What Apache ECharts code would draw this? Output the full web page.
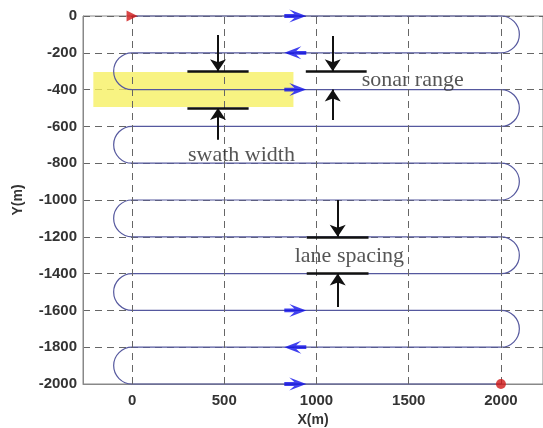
<!DOCTYPE html>
<html>
<head>
<meta charset="utf-8">
<script src="https://cdn.jsdelivr.net/npm/echarts@6/dist/echarts.min.js"></script>
<style>
  html, body { margin: 0; padding: 0; background: #fff; }
  #main { width: 543px; height: 428px; }
</style>
</head>
<body>
<div id="main"></div>
<script>
// survey lanes (lawnmower pattern)
var laneY = [0, -200, -400, -600, -800, -1000, -1200, -1400, -1600, -1800, -2000];
var laneStartX = 0;
var laneEndX = 2000;
var turnRadius = 100;

var xTicks = [0, 500, 1000, 1500, 2000];

// direction arrows on some lanes: [x, y, dir]
var arrowMarks = [
  [885, 0, 1], [885, -200, -1], [885, -400, 1],
  [885, -1600, 1], [885, -1800, -1], [885, -2000, 1]
];
var startPoint = [0, 0];
var endPoint = [2000, -2000];

// swath band: [x0, y0, x1, y1]
var swathBand = [-210, -305, 875, -495];

// annotation bars and pointer arrows
var annoBars = [
  [[300, -300], [632, -300]],
  [[300, -500], [632, -500]],
  [[942, -300], [1272, -300]],
  [[947, -1200], [1282, -1200]],
  [[947, -1400], [1282, -1400]]
];
var annoArrows = [
  [[466, -103], [466, -300]],
  [[466, -672], [466, -500]],
  [[1088, -109], [1088, -300]],
  [[1088, -565], [1088, -400]],
  [[1115, -1000], [1115, -1200]],
  [[1115, -1582], [1115, -1400]]
];
var annoText = [
  [303, -755, 'swath width'],
  [1245, -348, 'sonar range'],
  [882, -1304, 'lane spacing']
];

var pathData = [];
laneY.forEach(function (y, i) {
  pathData.push([0, y, 0]);
  if (i < laneY.length - 1) {
    pathData.push([1, y, i % 2 === 0 ? 1 : -1]);
  }
});

function renderPath(params, api) {
  var kind = api.value(0);
  var y = api.value(1);
  var style = { stroke: '#55589e', fill: 'none', lineWidth: 1.2 };
  if (kind === 0) {
    var p1 = api.coord([laneStartX, y]);
    var p2 = api.coord([laneEndX, y]);
    return { type: 'line', shape: { x1: p1[0], y1: p1[1], x2: p2[0], y2: p2[1] }, style: style };
  }
  var side = api.value(2);
  var c = api.coord([side > 0 ? laneEndX : laneStartX, y - turnRadius]);
  var r = api.size([turnRadius, turnRadius])[1];
  return {
    type: 'arc',
    shape: {
      cx: c[0], cy: c[1], r: r,
      startAngle: side > 0 ? -Math.PI / 2 : Math.PI / 2,
      endAngle: side > 0 ? Math.PI / 2 : Math.PI * 1.5,
      clockwise: true
    },
    style: style
  };
}

var chart = echarts.init(document.getElementById('main'));

var tickFont = { fontFamily: 'Liberation Sans', fontSize: 15, fontWeight: 'bold', color: '#333' };
var dash = { color: '#666', width: 1, type: [7, 5] };

var option = {
  backgroundColor: '#ffffff',
  animation: false,
  grid: {
    left: 83, right: 0, top: 16, bottom: 44,
    outerBoundsMode: 'none',
    containLabel: false,
    show: true, borderColor: '#888', borderWidth: 1
  },
  xAxis: {
    type: 'value',
    min: -266,
    max: 2228,
    name: 'X(m)',
    nameLocation: 'middle',
    nameGap: 27,
    nameTextStyle: { fontFamily: 'Liberation Sans', fontSize: 14, fontWeight: 'bold', color: '#333' },
    axisLine: { onZero: false, lineStyle: { color: '#888' } },
    axisTick: { show: false },
    splitLine: { show: false },
    axisLabel: Object.assign({
      customValues: xTicks,
      margin: 9,
      formatter: function (v) { return String(v); }
    }, tickFont)
  },
  yAxis: {
    type: 'value',
    min: -2000,
    max: 0,
    interval: 200,
    name: 'Y(m)',
    nameLocation: 'middle',
    nameGap: 58,
    nameTextStyle: { fontFamily: 'Liberation Sans', fontSize: 14, fontWeight: 'bold', color: '#333' },
    axisLine: { show: true, onZero: false, lineStyle: { color: '#888' } },
    axisTick: { show: false },
    splitLine: { show: true, lineStyle: dash },
    axisLabel: Object.assign({
      margin: 6,
      formatter: function (v) { return String(v); }
    }, tickFont)
  },
  series: [
    {
      type: 'line',
      data: [],
      silent: true,
      z: 1,
      markLine: {
        silent: true,
        symbol: 'none',
        label: { show: false },
        lineStyle: dash,
        data: xTicks.map(function (v) { return { xAxis: v }; })
      },
      markArea: {
        silent: true,
        itemStyle: { color: 'rgba(246,240,95,0.78)' },
        data: [[
          { coord: [swathBand[0], swathBand[1]] },
          { coord: [swathBand[2], swathBand[3]] }
        ]]
      }
    },
    {
      type: 'custom',
      renderItem: renderPath,
      data: pathData,
      clip: false,
      z: 3
    },
    {
      type: 'scatter',
      z: 5,
      symbol: 'path://M0,4.6 L10,4.6 L5,0 L22,6.5 L5,13 L10,8.4 L0,8.4 Z',
      symbolSize: [22, 13],
      symbolKeepAspect: false,
      itemStyle: { color: '#1010ea' },
      data: arrowMarks.map(function (a) {
        return { value: [a[0], a[1]], symbolRotate: a[2] > 0 ? 0 : 180 };
      })
    },
    {
      type: 'scatter',
      z: 6,
      symbol: 'triangle',
      symbolRotate: -90,
      symbolSize: 11,
      itemStyle: { color: '#d01818' },
      data: [startPoint]
    },
    {
      type: 'scatter',
      z: 6,
      symbol: 'circle',
      symbolSize: 10,
      itemStyle: { color: '#d01818' },
      data: [endPoint]
    },
    {
      type: 'lines',
      coordinateSystem: 'cartesian2d',
      z: 7,
      silent: true,
      symbol: 'none',
      lineStyle: { color: '#111', width: 2.5, opacity: 1 },
      data: annoBars.map(function (b) { return { coords: b }; })
    },
    {
      type: 'lines',
      coordinateSystem: 'cartesian2d',
      z: 7,
      silent: true,
      symbol: ['none', 'arrow'],
      symbolSize: [0, 12],
      lineStyle: { color: '#111', width: 2, opacity: 1 },
      data: annoArrows.map(function (a) { return { coords: a }; })
    },
    {
      type: 'scatter',
      z: 8,
      symbolSize: 0,
      silent: true,
      label: {
        show: true,
        position: 'right',
        distance: 0,
        align: 'left',
        verticalAlign: 'middle',
        fontFamily: 'Liberation Serif',
        fontSize: 22,
        color: '#2a2a2a',
        formatter: function (p) { return p.value[2]; }
      },
      data: annoText
    }
  ]
};

chart.setOption(option);
</script>
</body>
</html>
